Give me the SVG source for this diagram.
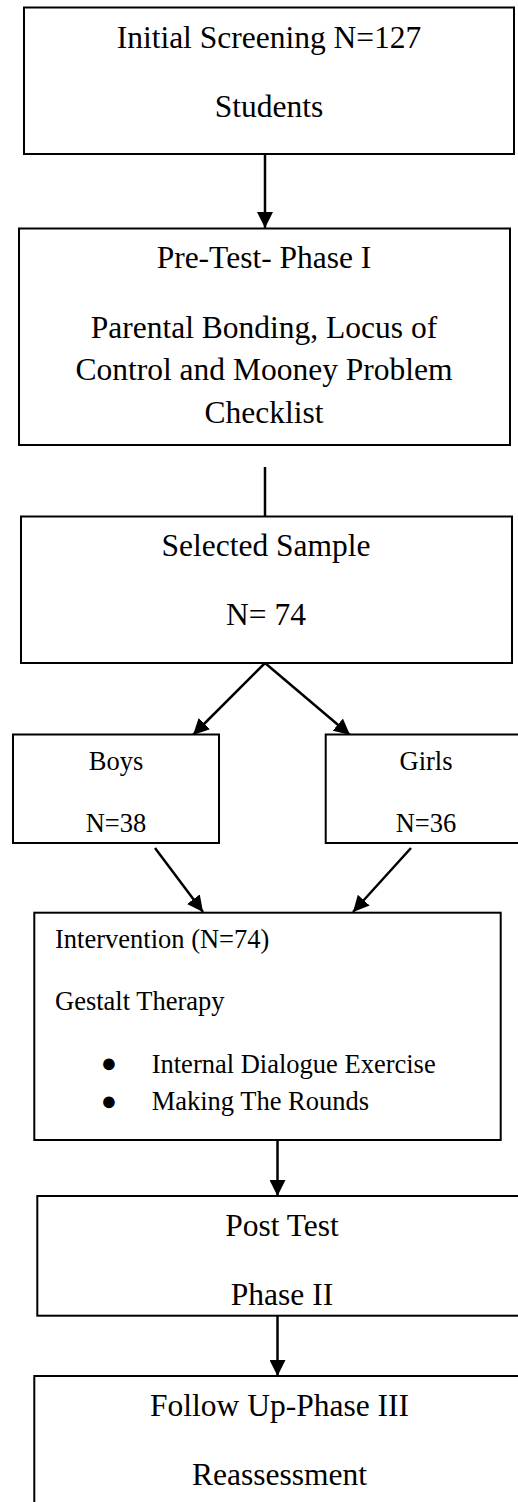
<svg xmlns="http://www.w3.org/2000/svg" width="518" height="1502" viewBox="0 0 518 1502">
<style>
.box{fill:#fff;stroke:#000;stroke-width:2}
.t{font-family:"Liberation Serif","Times New Roman",serif;font-size:31.5px;fill:#000;text-anchor:middle}
.s{font-family:"Liberation Serif","Times New Roman",serif;font-size:26.5px;fill:#000;text-anchor:middle}
.l{font-family:"Liberation Serif","Times New Roman",serif;font-size:26.5px;fill:#000}
.b{font-family:"Liberation Serif","Times New Roman",serif;font-size:27px;fill:#000;text-anchor:middle}
.c{stroke:#000;stroke-width:2.5;fill:none}
</style>
<defs>
<marker id="ah" viewBox="0 0 16 16" refX="16" refY="8" markerWidth="16" markerHeight="16" markerUnits="userSpaceOnUse" orient="auto">
<path d="M0,0 L16,8 L0,16 z" fill="#000"/>
</marker>
</defs>
<rect width="518" height="1502" fill="#fff"/>
<g id="connectors">
<line class="c" x1="265" y1="154" x2="265" y2="228" marker-end="url(#ah)"/>
<line class="c" x1="265" y1="467" x2="265" y2="516"/>
<line class="c" x1="265" y1="663" x2="193" y2="735" marker-end="url(#ah)"/>
<line class="c" x1="265" y1="663" x2="350" y2="735" marker-end="url(#ah)"/>
<line class="c" x1="155" y1="848" x2="203" y2="912" marker-end="url(#ah)"/>
<line class="c" x1="411" y1="848" x2="353" y2="912" marker-end="url(#ah)"/>
<line class="c" x1="277.5" y1="1140" x2="277.5" y2="1196" marker-end="url(#ah)"/>
<line class="c" x1="277.5" y1="1316" x2="277.5" y2="1376" marker-end="url(#ah)"/>
</g>
<g id="n-screening">
<rect class="box" x="24" y="7.5" width="490" height="146.5"/>
<text class="t" x="269" y="48">Initial Screening N=127</text>
<text class="t" x="269" y="117">Students</text>
</g>
<g id="n-pretest">
<rect class="box" x="19" y="228.5" width="491" height="216.5"/>
<text class="t" x="264" y="268">Pre-Test- Phase I</text>
<text class="t" x="264" y="338">Parental Bonding, Locus of</text>
<text class="t" x="264" y="380">Control and Mooney Problem</text>
<text class="t" x="264" y="423">Checklist</text>
</g>
<g id="n-sample">
<rect class="box" x="21" y="516.5" width="491" height="146.5"/>
<text class="t" x="266" y="556">Selected Sample</text>
<text class="t" x="266" y="625">N= 74</text>
</g>
<g id="n-boys">
<rect class="box" x="13" y="734.5" width="206" height="108.5"/>
<text class="s" x="116" y="770">Boys</text>
<text class="s" x="116" y="831.5">N=38</text>
</g>
<g id="n-girls">
<rect class="box" x="325.7" y="734.5" width="206" height="108.5"/>
<text class="s" x="426" y="770">Girls</text>
<text class="s" x="426" y="831.5">N=36</text>
</g>
<g id="n-intervention">
<rect class="box" x="34.3" y="912.7" width="466.4" height="227.3"/>
<text class="l" x="55" y="948.3">Intervention (N=74)</text>
<text class="l" x="55" y="1010">Gestalt Therapy</text>
<text class="b" x="109" y="1072">●</text>
<text class="l" x="151.7" y="1073">Internal Dialogue Exercise</text>
<text class="b" x="109" y="1110">●</text>
<text class="l" x="151.7" y="1110">Making The Rounds</text>
</g>
<g id="n-posttest">
<rect class="box" x="37.3" y="1196" width="492" height="119.7"/>
<text class="t" x="282" y="1236">Post Test</text>
<text class="t" x="282" y="1305">Phase II</text>
</g>
<g id="n-followup">
<rect class="box" x="34.3" y="1376" width="492" height="140"/>
<text class="t" x="279.5" y="1416">Follow Up-Phase III</text>
<text class="t" x="279.5" y="1485">Reassessment</text>
</g>
</svg>
